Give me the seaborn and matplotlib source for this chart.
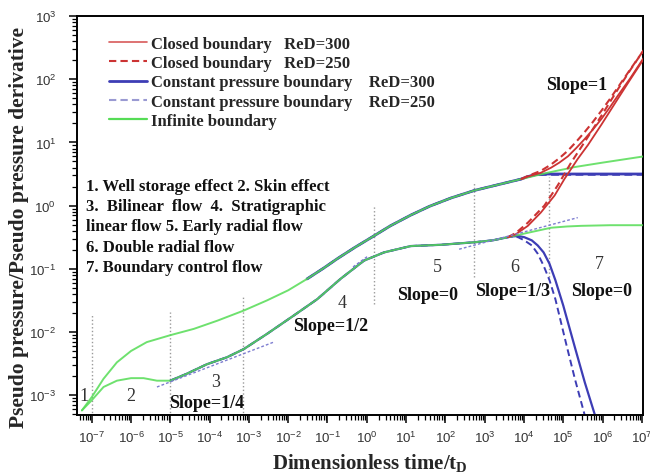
import numpy as np
import pandas as pd
import matplotlib
matplotlib.use("Agg")
import matplotlib.pyplot as plt
import seaborn as sns
from matplotlib.ticker import LogLocator, NullFormatter, LogFormatterSciNotation

# ---------------------------------------------------------------------------
# Type curves, stored as log10(t_D) and log10(response)
# ---------------------------------------------------------------------------
# infinite boundary: pseudo pressure (upper) and its derivative (lower)
inf_p_logt = [-7.25, -7.0, -6.7, -6.36, -6.0, -5.6, -5.0, -4.4, -3.8, -3.13, -2.54, -2.0,
              -1.52, -1.1, -0.75, -0.3, 0.18, 0.6, 1.12, 1.6, 2.14, 2.74, 3.4, 3.93,
              4.6, 5.29, 6.0, 7.06]
inf_p_logy = [-3.24, -3.03, -2.74, -2.48, -2.30, -2.16, -2.05, -1.95, -1.82, -1.66, -1.50, -1.34,
              -1.16, -0.99, -0.84, -0.66, -0.48, -0.32, -0.15, -0.01, 0.12, 0.24, 0.34, 0.42,
              0.52, 0.61, 0.68, 0.78]

inf_d_logt = [-7.25, -7.0, -6.7, -6.36, -6.0, -5.68, -5.34, -5.0, -4.58, -4.07, -3.56, -3.13,
              -2.54, -1.86, -1.26, -0.67, -0.07, 0.44, 1.12, 1.88, 2.74, 3.2, 3.59, 4.10,
              4.69, 5.1, 5.46, 6.2, 7.06]
inf_d_logy = [-3.24, -3.08, -2.87, -2.77, -2.73, -2.73, -2.77, -2.77, -2.66, -2.51, -2.40, -2.27,
              -2.03, -1.74, -1.48, -1.16, -0.87, -0.74, -0.64, -0.62, -0.58, -0.55, -0.50, -0.43,
              -0.35, -0.33, -0.32, -0.31, -0.31]

# closed boundary, late-time branches
closed300_p_logt = [3.93, 4.1, 4.43, 4.69, 4.9, 5.12, 5.33, 5.54, 5.75, 5.97, 6.18, 6.39, 6.7, 7.06]
closed300_p_logy = [0.42, 0.46, 0.52, 0.60, 0.68, 0.78, 0.91, 1.05, 1.20, 1.37, 1.55, 1.74, 2.01, 2.35]
closed250_p_logt = [3.93, 4.1, 4.43, 4.69, 4.9, 5.12, 5.33, 5.54, 5.75, 5.97, 6.18, 6.39, 6.7, 7.06]
closed250_p_logy = [0.42, 0.47, 0.55, 0.65, 0.75, 0.87, 1.01, 1.16, 1.32, 1.50, 1.68, 1.87, 2.15, 2.47]

closed300_d_logt = [3.59, 3.8, 4.10, 4.43, 4.78, 5.03, 5.20, 5.37, 5.63, 5.97, 6.39, 6.7, 7.06]
closed300_d_logy = [-0.50, -0.45, -0.32, -0.11, 0.16, 0.42, 0.58, 0.74, 0.96, 1.28, 1.69, 1.99, 2.33]
closed250_d_logt = [3.59, 3.8, 4.10, 4.52, 4.86, 5.20, 5.6, 6.0, 6.4, 6.7, 7.06]
closed250_d_logy = [-0.50, -0.43, -0.27, 0.0, 0.32, 0.68, 1.06, 1.45, 1.85, 2.14, 2.47]

# constant pressure boundary, late-time branches
const300_p_logt = [3.93, 4.1, 4.3, 4.6, 5.0, 7.06]
const300_p_logy = [0.42, 0.46, 0.49, 0.50, 0.50, 0.50]
const250_p_logt = [3.93, 4.05, 4.25, 4.5, 7.06]
const250_p_logy = [0.42, 0.45, 0.48, 0.49, 0.49]

const300_d_logt = [3.59, 3.67, 3.85, 4.01, 4.2, 4.35, 4.5, 4.65, 4.8, 5.0, 5.3, 5.55, 5.8, 5.9]
const300_d_logy = [-0.50, -0.49, -0.48, -0.50, -0.55, -0.63, -0.74, -0.92, -1.18, -1.58, -2.25, -2.80, -3.30, -3.52]
const250_d_logt = [3.59, 3.67, 3.85, 4.01, 4.2, 4.35, 4.5, 4.65, 4.8, 5.08, 5.3, 5.54, 5.64]
const250_d_logy = [-0.50, -0.49, -0.50, -0.55, -0.63, -0.76, -0.95, -1.18, -1.48, -2.20, -2.75, -3.30, -3.52]

# straight-line guides for the flow regimes
guide_logt = [[-5.34, -2.37], [-0.35, 0.05], [2.35, 5.37]]
guide_logy = [[-2.87, -2.16], [-0.97, -0.79], [-0.69, -0.19]]

# flow-regime boundaries: log t and vertical extent (log y)
sep_logt = [-7.0, -5.0, -3.15, 0.18, 2.74, 4.65]
sep_logy_lo = [-3.4, -3.4, -3.4, -1.56, -1.13, -1.13]
sep_logy_hi = [-1.72, -1.68, -1.41, 0.0, 0.37, 0.45]

regime_numbers = ["1", "2", "3", "4", "5", "6", "7"]
slope_labels = ["Slope=1/4", "Slope=1/2", "Slope=0", "Slope=1/3", "Slope=0", "Slope=1"]
regime_notes = ["1. Well storage effect 2. Skin effect",
                "3.  Bilinear  flow  4.  Stratigraphic",
                "linear flow 5. Early radial flow",
                "6. Double radial flow",
                "7. Boundary control flow"]
series_labels = ["Closed boundary   ReD=300", "Closed boundary   ReD=250",
                 "Constant pressure boundary    ReD=300", "Constant pressure boundary    ReD=250",
                 "Infinite boundary"]


def segment(logt, logy, lo, hi):
    """Part of a base curve with lo <= log t <= hi."""
    return ([t for t in logt if lo <= t <= hi],
            [y for t, y in zip(logt, logy) if lo <= t <= hi])


sns.set_theme(style="ticks")
plt.rcParams["font.family"] = ["Liberation Serif", "DejaVu Serif"]
plt.rcParams["mathtext.default"] = "regular"

fig = plt.figure(figsize=(6.5, 4.77), dpi=100)
ax = fig.add_axes([77 / 650, 61 / 477, 566 / 650, 399 / 477])
ax.set_xscale("log")
ax.set_yscale("log")

RED = "#cc3333"
BLUE = "#3d3db5"
GREEN = "#55dc55"


def draw(logt, logy, color, lw, ls="-", label=None, z=2.0, alpha=1.0):
    df = pd.DataFrame({"t": 10.0 ** np.asarray(logt, dtype=float),
                       "v": 10.0 ** np.asarray(logy, dtype=float)})
    sns.lineplot(data=df, x="t", y="v", ax=ax, color=color, lw=lw, linestyle=ls,
                 label=label, zorder=z, alpha=alpha, sort=False, estimator=None)


dash = (0, (3.5, 2.0))

# constant-pressure curves share the infinite-acting response at early time
bp_t, bp_y = segment(inf_p_logt, inf_p_logy, -1.6, 3.9)
bd_t, bd_y = segment(inf_d_logt, inf_d_logy, -5.0, 3.5)
draw(bp_t + const300_p_logt, bp_y + const300_p_logy, BLUE, 2.0, z=2)
draw(bd_t + const300_d_logt, bd_y + const300_d_logy, BLUE, 1.6, z=2)
draw(bp_t + const250_p_logt, bp_y + const250_p_logy, BLUE, 1.6, ls=dash, z=2)
draw(bd_t + const250_d_logt, bd_y + const250_d_logy, BLUE, 1.4, ls=dash, z=2)

# infinite boundary
draw(inf_p_logt, inf_p_logy, GREEN, 1.4, z=3, alpha=0.85)
draw(inf_d_logt, inf_d_logy, GREEN, 1.4, z=3, alpha=0.85)

# closed boundary
draw(closed300_p_logt, closed300_p_logy, RED, 1.3, z=4)
draw(closed300_d_logt, closed300_d_logy, RED, 1.3, z=4)
draw(closed250_p_logt, closed250_p_logy, RED, 1.5, ls=dash, z=4)
draw(closed250_d_logt, closed250_d_logy, RED, 1.5, ls=dash, z=4)

# legend entries
legend_styles = [("#d85a5a", "-", 1.2), (RED, dash, 1.5), (BLUE, "-", 2.0),
                 ("#9a9ad2", dash, 1.5), (GREEN, "-", 1.6)]
handles = [plt.Line2D([], [], color=c, linestyle=s, lw=w) for c, s, w in legend_styles]

# slope guides
for gt, gy in zip(guide_logt, guide_logy):
    ax.plot(10.0 ** np.array(gt), 10.0 ** np.array(gy), color="#7d7dd0",
            lw=1.0, linestyle=(0, (2, 1.5)), zorder=5)

# regime separators
ax.vlines(10.0 ** np.array(sep_logt), 10.0 ** np.array(sep_logy_lo),
          10.0 ** np.array(sep_logy_hi), colors="#9a9a9a", linestyles=":", lw=1.0, zorder=1)

# regime numbers
num_pos = [(-7.19, -3.01), (-6.0, -3.01), (-3.85, -2.78), (-0.62, -1.53),
           (1.80, -0.97), (3.76, -0.96), (5.92, -0.92)]
for s, (x, y) in zip(regime_numbers, num_pos):
    ax.text(10 ** x, 10 ** y, s, ha="center", va="center", fontsize=13,
            color="#333333", zorder=6)

# slope annotations
slope_pos = [(-4.08, -3.11), (-0.92, -1.90), (1.55, -1.41), (3.70, -1.34),
             (5.97, -1.35), (5.33, 1.91)]
for s, (x, y) in zip(slope_labels, slope_pos):
    ax.text(10 ** x, 10 ** y, s, ha="center", va="center", fontsize=13,
            fontweight="bold", color="#111111", zorder=6)

# regime description block
note_y = [186.7, 206.7, 226.7, 248.3, 268.3]
for s, py in zip(regime_notes, note_y):
    ax.text((86 - 77) / 566, (416 - py) / 399, s, transform=ax.transAxes,
            ha="left", va="center", fontsize=12, fontweight="bold", color="#111111")

leg = ax.legend(handles, series_labels, loc="upper left", bbox_to_anchor=(0.03, 0.988),
                frameon=False, handlelength=2.3, handletextpad=0.2, labelspacing=0.2,
                prop={"family": ["Liberation Serif"], "weight": "bold", "size": 12})

ax.set_xlim(10 ** -7.375, 10 ** 7.03)
ax.set_ylim(10 ** -3.313, 10 ** 3)

ax.xaxis.set_major_locator(LogLocator(base=10, numticks=30))
ax.yaxis.set_major_locator(LogLocator(base=10, numticks=30))
ax.xaxis.set_minor_locator(LogLocator(base=10, subs=np.arange(2, 10), numticks=30))
ax.yaxis.set_minor_locator(LogLocator(base=10, subs=np.arange(2, 10), numticks=30))
ax.xaxis.set_minor_formatter(NullFormatter())
ax.yaxis.set_minor_formatter(NullFormatter())
ax.xaxis.set_major_formatter(LogFormatterSciNotation())
ax.yaxis.set_major_formatter(LogFormatterSciNotation())

ax.tick_params(which="major", direction="out", length=6, width=1.1, color="black",
               labelsize=9.5, labelcolor="#333333", labelfontfamily="Liberation Sans")
ax.tick_params(which="minor", direction="out", length=3.5, width=0.9, color="black")
ax.tick_params(axis="y", which="major", pad=9)
ax.tick_params(axis="x", which="major", pad=5)
for sp in ax.spines.values():
    sp.set_visible(True)
    sp.set_linewidth(1.4)
    sp.set_color("black")

ax.set_xlabel("Dimensionless time/t$_\\mathregular{D}$", fontsize=15, fontweight="bold")
ax.xaxis.set_label_coords((370 - 77) / 566, (416 - 452) / 399)
ax.set_ylabel("Pseudo pressure/Pseudo pressure derivative", fontsize=15.5, fontweight="bold")
ax.yaxis.set_label_coords((29 - 77) / 566, (416 - 228) / 399)

fig.savefig("out.png", dpi=100, facecolor="white")
